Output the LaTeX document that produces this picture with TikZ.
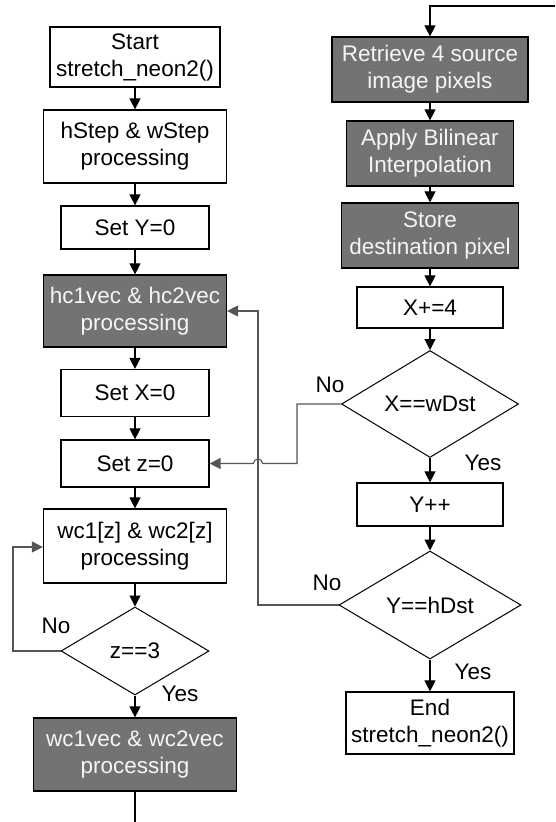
\documentclass[tikz,border=0pt]{standalone}
\usepackage{fontspec}
\setmainfont{Liberation Sans}
\usetikzlibrary{arrows.meta,shapes.geometric}
\definecolor{darkfill}{RGB}{115,115,115}
\definecolor{looptone}{RGB}{85,85,85}
\definecolor{lighttext}{RGB}{245,245,245}
\begin{document}
\begin{tikzpicture}[x=1pt,y=-1pt,
  every node/.style={font=\fontsize{22.5}{27}\selectfont},
  procbox/.style={draw=black,line width=1.2pt,fill=white,inner sep=0pt,align=center},
  darkbox/.style={procbox,fill=darkfill,text=lighttext},
  decision/.style={draw=black,line width=1pt,fill=white,diamond,inner sep=0pt,align=center},
  flow/.style={line width=1.1pt,-{Triangle[width=11pt,length=11pt]}},
  loop/.style={flow,draw=looptone},
  plain/.style={line width=1.1pt},
  lbl/.style={inner sep=0pt}]
\useasboundingbox (0,0) rectangle (555,822);

% left column
\node[procbox,minimum width=170pt,minimum height=60pt] (start) at (135,57) {Start\\stretch\_neon2()};
\node[procbox,minimum width=183pt,minimum height=73pt] (hstep) at (135,146.5) {hStep \& wStep\\processing};
\node[procbox,minimum width=148pt,minimum height=43pt] (sety) at (135,227.5) {Set Y=0};
\node[darkbox,minimum width=183pt,minimum height=72pt] (hcvec) at (135,311) {hc1vec \& hc2vec\\processing};
\node[procbox,minimum width=148pt,minimum height=47pt] (setx) at (135,393) {Set X=0};
\node[procbox,minimum width=148pt,minimum height=47pt] (setz) at (135,463.5) {Set z=0};
\node[procbox,minimum width=183pt,minimum height=74pt] (wcz) at (135,546) {wc1[z] \& wc2[z]\\processing};
\node[decision,minimum width=148pt,minimum height=88pt] (zchk) at (135,651) {z==3};
\node[darkbox,minimum width=203pt,minimum height=73pt] (wcvec) at (135,754.5) {wc1vec \& wc2vec\\processing};
\coordinate (leftout) at (135,822);

% right column
\coordinate (rightin) at (555,6);
\node[darkbox,minimum width=196pt,minimum height=65pt] (retr) at (430,69.5) {Retrieve 4 source\\image pixels};
\node[darkbox,minimum width=167pt,minimum height=65pt] (interp) at (430,153.5) {Apply Bilinear\\Interpolation};
\node[darkbox,minimum width=177pt,minimum height=65pt] (store) at (430,235.5) {Store\\destination pixel};
\node[procbox,minimum width=146pt,minimum height=41pt] (xinc) at (430,307.5) {X+=4};
\node[decision,minimum width=177pt,minimum height=105pt] (xchk) at (430,404) {X==wDst};
\node[procbox,minimum width=146pt,minimum height=43pt] (yinc) at (430,504.5) {Y++};
\node[decision,minimum width=182pt,minimum height=108pt] (ychk) at (430,605) {Y==hDst};
\node[procbox,minimum width=168pt,minimum height=62pt] (fin) at (430,723) {End\\stretch\_neon2()};

% straight flow
\draw[flow] (start) -- (hstep);
\draw[flow] (hstep) -- (sety);
\draw[flow] (sety) -- (hcvec);
\draw[flow] (hcvec) -- (setx);
\draw[flow] (setx) -- (setz);
\draw[flow] (setz) -- (wcz);
\draw[flow] (wcz) -- (zchk);
\draw[flow] (zchk) -- (wcvec);
\draw[plain] (wcvec) -- (leftout);
\draw[flow] (rightin) -| (retr);
\draw[flow] (retr) -- (interp);
\draw[flow] (interp) -- (store);
\draw[flow] (store) -- (xinc);
\draw[flow] (xinc) -- (xchk);
\draw[flow] (xchk) -- (yinc);
\draw[flow] (yinc) -- (ychk);
\draw[flow] (ychk) -- (fin);

% loops back
\draw[loop] (zchk.west) -- (13,651) -- (13,547) -- (wcz.west |- 0,547);
\draw[loop] (ychk.west) -- (258,605) -- (258,311) -- (hcvec.east);
\draw[loop] (xchk.west) -- (297,404) -- (297,463.5) -- (262.5,463.5)
  arc[start angle=0,end angle=180,radius=4.5pt] -- (setz.east);

% branch labels
\node[lbl] at (56,626) {No};
\node[lbl] at (180,694) {Yes};
\node[lbl] at (330,385) {No};
\node[lbl] at (483,463) {Yes};
\node[lbl] at (327,583) {No};
\node[lbl] at (473,672) {Yes};
\end{tikzpicture}
\end{document}
